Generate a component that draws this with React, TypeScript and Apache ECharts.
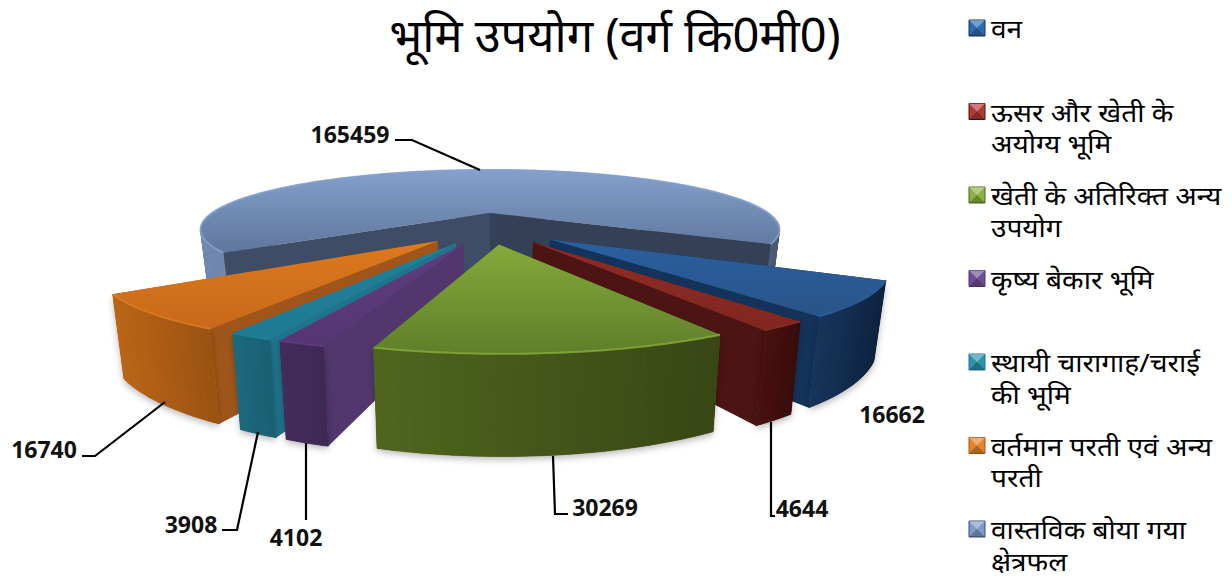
import React, { useEffect, useRef } from "react";
import * as echarts from "echarts";

const categories = [
  "वन",
  "ऊसर और खेती के\nअयोग्य भूमि",
  "खेती के अतिरिक्त अन्य\nउपयोग",
  "कृष्य बेकार भूमि",
  "स्थायी चारागाह/चराई\nकी भूमि",
  "वर्तमान परती एवं अन्य\nपरती",
  "वास्तविक बोया गया\nक्षेत्रफल",
];
const values = [16662, 4644, 30269, 4102, 3908, 16740, 165459];
const chartTitle = "भूमि उपयोग (वर्ग कि0मी0)";
const drawOrder = [6, 5, 4, 3, 0, 1, 2];

const looks = [
  { key: "#2f6bb0", top: ["#2a5f9f", "#2a5488"], cut: ["#14335a", "#14335a"], outer: ["#17365c", "#0e233f"] },
  { key: "#b03a36", top: ["#8e2c28", "#82261f"], cut: ["#4c1412", "#4c1412"], outer: ["#4a1110", "#380c0a"] },
  { key: "#8cb33f", top: ["#84aa3a", "#5f7f2a"], cut: ["#4c6120", "#4c6120"], outer: ["#50661f", "#384714"] },
  { key: "#6f4d96", top: ["#5f3d80", "#553673"], cut: ["#52366e", "#52366e"], outer: ["#432c5c", "#3e2953"] },
  { key: "#2d93ad", top: ["#1f8199", "#1f7a92"], cut: ["#1e748c", "#1e748c"], outer: ["#1c6a7e", "#1a5f72"] },
  { key: "#e5852a", top: ["#dc7a1e", "#c8691a"], cut: ["#a0561a", "#a0561a"], outer: ["#bb6617", "#9a5212"] },
  { key: "#7f9cc9", top: ["#84a0cc", "#5f769c"], cut: ["#3e4c66", "#334055"], outer: ["#7089b0", "#4c5b76"] },
];

const labelSpots = [
  { x: 892, y: 414, leader: null },
  { x: 802, y: 508, leader: [[771, 422], [771, 516], [775, 516]] },
  { x: 605, y: 507, leader: [[553, 456], [555, 514], [568, 514]] },
  { x: 296, y: 537, leader: [[306, 443], [306, 520]] },
  { x: 191, y: 524, leader: [[258, 432], [237, 530], [222, 530]] },
  { x: 44, y: 449, leader: [[165, 402], [95, 456], [82, 456]] },
  { x: 350, y: 134, leader: [[395, 140], [412, 140], [480, 170]] },
];

const CX = 490;
const CY = 213;
const R = 278;
const TILT = 0.198;
const PERSP = 0.001;
const H = 60;
const START = 29.3;
const RAD = Math.PI / 180;

const project = (X: number, Y: number, z: number) => {
  const p = 1 / (1 - PERSP * Y);
  const s = 1 - 0.03 * (z / H);
  return [CX + X * p * s, CY + TILT * Y * p + z * p];
};

const total = values.reduce((a, b) => a + b, 0);
const maxValue = Math.max(...values);

function sliceAngles(i: number) {
  let a = START;
  for (let j = 0; j < i; j++) a += (values[j] / total) * 360;
  return [a, a + (values[i] / total) * 360];
}

const vGrad = (c: string[]) => ({
  type: "linear", x: 0, y: 0, x2: 0, y2: 1,
  colorStops: [{ offset: 0, color: c[0] }, { offset: 1, color: c[1] }],
});

const mix = (a: string, b: string, f: number) => {
  const pa = [1, 3, 5].map((n) => parseInt(a.slice(n, n + 2), 16));
  const pb = [1, 3, 5].map((n) => parseInt(b.slice(n, n + 2), 16));
  return `rgb(${pa.map((q, n) => Math.round(q + (pb[n] - q) * f)).join(",")})`;
};

function renderSlice(_params: any, api: any) {
  const i = api.value(0);
  const v = api.value(1);
  const look = looks[i];
  const isBack = v === maxValue;
  const [a0, a1] = sliceAngles(i);
  const mid = (a0 + a1) / 2;
  let ox = 0;
  let oy = 0;
  if (!isBack) {
    const dir = 90 + 0.5 * (mid - 90);
    const e = 138 - 100 * (1 - Math.sin(dir * RAD));
    ox = e * Math.cos(dir * RAD);
    oy = e * Math.sin(dir * RAD);
  }
  const steps = Math.max(8, Math.ceil(a1 - a0));
  const arc: number[][] = [];
  for (let s = 0; s <= steps; s++) {
    const a = (a0 + ((a1 - a0) * s) / steps) * RAD;
    arc.push([ox + R * Math.cos(a), oy + R * Math.sin(a)]);
  }
  const topArc = arc.map((q) => project(q[0], q[1], 0));
  const botArc = arc.map((q) => project(q[0], q[1], H));
  const apexT = project(ox, oy, 0);
  const apexB = project(ox, oy, H);
  const first = arc[0];
  const last = arc[arc.length - 1];
  const wallStart = {
    type: "polygon",
    shape: { points: [apexT, project(first[0], first[1], 0), project(first[0], first[1], H), apexB] },
    style: { fill: look.cut[0] },
  };
  const wallEnd = {
    type: "polygon",
    shape: { points: [apexT, project(last[0], last[1], 0), project(last[0], last[1], H), apexB] },
    style: { fill: look.cut[1] },
  };
  const walls = first[1] < last[1] ? [wallStart, wallEnd] : [wallEnd, wallStart];

  const xs = topArc.map((q) => q[0]);
  const minX = Math.min(...xs);
  const maxX = Math.max(...xs);
  const outer: any[] = [];
  if (!isBack) {
    outer.push({
      type: "polygon",
      shape: { points: [...topArc, ...botArc.slice().reverse()] },
      style: { fill: look.outer[1], shadowBlur: 7, shadowColor: "rgba(0,0,0,0.28)", shadowOffsetY: 3 },
    });
  }
  for (let s = 0; s < steps; s++) {
    const f = ((topArc[s][0] + topArc[s + 1][0]) / 2 - minX) / Math.max(1, maxX - minX);
    const color = mix(look.outer[0], look.outer[1], f);
    outer.push({
      type: "polygon",
      shape: { points: [topArc[s], topArc[s + 1], botArc[s + 1], botArc[s]] },
      style: { fill: color, stroke: color, lineWidth: 0.6 },
    });
  }
  const face = {
    type: "polygon",
    shape: { points: [apexT, ...topArc] },
    style: { fill: vGrad(look.top) },
  };
  const rim = {
    type: "polyline",
    shape: { points: topArc },
    style: { stroke: look.top[0], lineWidth: 2, fill: "none", opacity: 0.85 },
  };
  const children: any[] = isBack ? [...outer, face, rim, ...walls] : [...walls, ...outer, face, rim];
  const spot = labelSpots[i];
  if (spot.leader) {
    children.push({
      type: "polyline",
      shape: { points: spot.leader },
      style: { stroke: "#000", lineWidth: 2.2, fill: "none" },
    });
  }
  children.push({
    type: "text",
    x: spot.x,
    y: spot.y,
    style: {
      text: String(v),
      fontSize: 23,
      fontWeight: "bold",
      fontFamily: "Open Sans",
      fill: "#111",
      align: "center",
      verticalAlign: "middle",
    },
  });
  return { type: "group", children };
}

function legendGraphics() {
  const out: any[] = [];
  categories.forEach((name, i) => {
    const y = 28 + i * 83.5;
    const x0 = 969;
    const size = 16;
    const t = y - size / 2;
    const key = looks[i].key;
    out.push({ type: "rect", shape: { x: x0, y: t, width: size, height: size }, style: { fill: key, stroke: looks[i].cut[0], lineWidth: 1 } });
    out.push({
      type: "polygon",
      shape: { points: [[x0, t], [x0 + size, t], [x0 + size / 2, t + size / 2]] },
      style: { fill: "rgba(255,255,255,0.35)" },
    });
    out.push({
      type: "polygon",
      shape: { points: [[x0, t + size], [x0 + size, t + size], [x0 + size / 2, t + size / 2]] },
      style: { fill: "rgba(0,0,0,0.25)" },
    });
    name.split("\n").forEach((line, n) => {
      out.push({
        type: "text",
        x: 991,
        y: y + n * 31.5,
        scaleX: 1.08,
        style: {
          text: line,
          fontSize: 26,
          fontFamily: "Noto Sans, DejaVu Sans",
          fill: "#000",
          align: "left",
          verticalAlign: "middle",
        },
      });
    });
  });
  return out;
}

export default function App() {
  const ref = useRef<HTMLDivElement>(null);
  useEffect(() => {
    document.body.style.margin = "0";
    const chart = echarts.init(ref.current!, undefined, { renderer: "svg" });
    chart.setOption({
      animation: false,
      backgroundColor: "#fff",
      title: {
        text: chartTitle,
        left: 610,
        top: 5,
        textAlign: "center",
        textStyle: { fontSize: 47, fontWeight: "normal", color: "#000", fontFamily: "Noto Sans, DejaVu Sans" },
      },
      graphic: legendGraphics(),
      series: [
        {
          type: "custom",
          coordinateSystem: "none",
          renderItem: renderSlice,
          data: drawOrder.map((i) => [i, values[i]]),
          silent: true,
        },
      ],
    });
    return () => chart.dispose();
  }, []);
  return <div ref={ref} style={{ position: "absolute", left: 0, top: 0, width: 1232, height: 578 }} />;
}
